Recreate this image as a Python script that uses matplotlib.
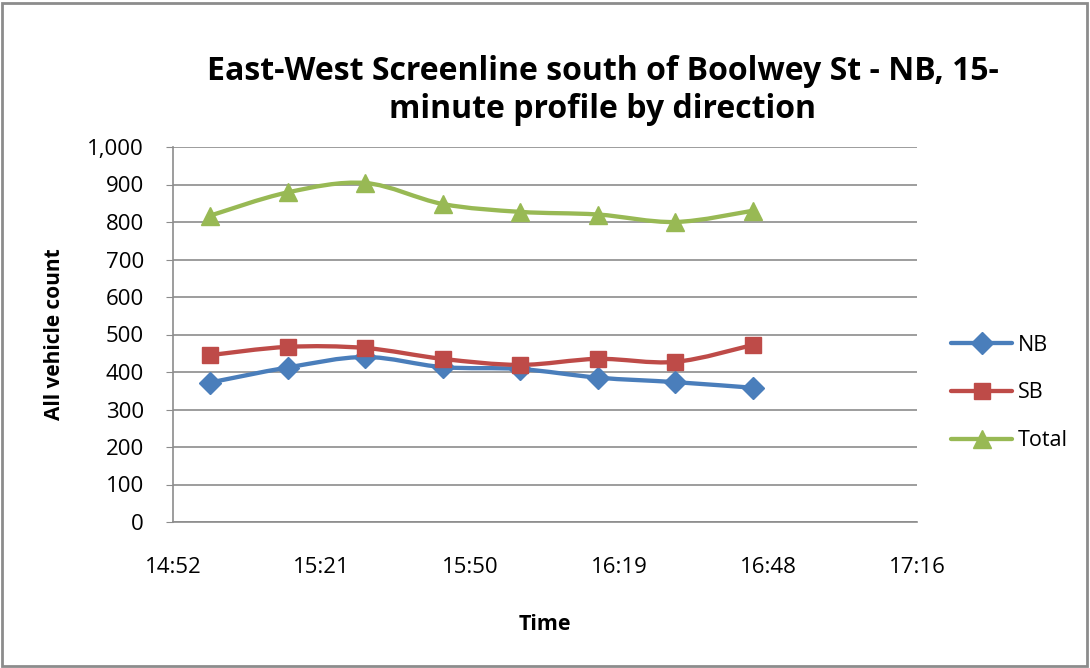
import matplotlib.pyplot as plt
import numpy as np
from matplotlib.path import Path
from matplotlib.patches import PathPatch, Rectangle
from matplotlib.lines import Line2D
from matplotlib.ticker import FuncFormatter, MultipleLocator

plt.rcParams['font.family'] = ['Open Sans', 'DejaVu Sans']

# data
times = ['15:00', '15:15', '15:30', '15:45', '16:00', '16:15', '16:30', '16:45']
nb = [372, 412, 440, 413, 408, 385, 373, 358]
sb = [445, 467, 464, 435, 419, 435, 427, 472]
total = [817, 879, 904, 848, 827, 820, 800, 830]

series = [('NB', nb, '#4a7ebb', 'D', 11),
          ('SB', sb, '#be4b48', 's', 12),
          ('Total', total, '#98b954', '^', 13)]


def to_day(t):
    h, m = t.split(':')
    return (int(h) * 60 + int(m)) / 1440.0


def day_fmt(v, pos):
    mins = int(v * 1440 + 1e-6)
    return '%d:%02d' % (mins // 60, mins % 60)


def smooth_path(x, y, k=1 / 6.0):
    # excel-style smoothed line as cubic bezier segments
    x = np.asarray(x, float)
    y = np.asarray(y, float)
    n = len(x)
    verts = [(x[0], y[0])]
    codes = [Path.MOVETO]
    for i in range(n - 1):
        i0 = max(i - 1, 0)
        i3 = min(i + 2, n - 1)
        c1 = (x[i] + (x[i + 1] - x[i0]) * k, y[i] + (y[i + 1] - y[i0]) * k)
        c2 = (x[i + 1] - (x[i3] - x[i]) * k, y[i + 1] - (y[i3] - y[i]) * k)
        verts += [c1, c2, (x[i + 1], y[i + 1])]
        codes += [Path.CURVE4] * 3
    return Path(verts, codes)


xs = [to_day(t) for t in times]

fig = plt.figure(figsize=(10.9, 6.68), dpi=100)
ax = fig.add_axes([173 / 1090, 146 / 668, 744 / 1090, 375 / 668])

handles = []
for name, vals, col, mk, ms in series:
    ax.add_patch(PathPatch(smooth_path(xs, vals), facecolor='none', edgecolor=col,
                           lw=3.1, capstyle='round', joinstyle='round', zorder=3))
    ax.plot(xs, vals, linestyle='none', marker=mk, ms=ms, color=col, zorder=4)
    handles.append(Line2D([], [], color=col, lw=3.1, marker=mk, ms=ms,
                          solid_capstyle='round'))

ax.set_xlim(0.62, 0.72)
ax.set_ylim(0, 1000)
ax.xaxis.set_major_locator(MultipleLocator(0.02))
ax.xaxis.set_major_formatter(FuncFormatter(day_fmt))
ax.yaxis.set_major_locator(MultipleLocator(100))
ax.yaxis.set_major_formatter(FuncFormatter(lambda v, p: '{:,.0f}'.format(v)))

ax.grid(axis='y', color='#8c8c8c', lw=1.2)
ax.set_axisbelow(True)
for s in ['top', 'right']:
    ax.spines[s].set_visible(False)
for s in ['left', 'bottom']:
    ax.spines[s].set_color('#8c8c8c')
    ax.spines[s].set_linewidth(1.2)

ax.tick_params(axis='y', length=5, color='#8c8c8c', pad=16, labelsize=16)
ax.tick_params(axis='x', length=0, pad=25, labelsize=16)

ax.set_xlabel('Time', fontsize=15.5, fontweight='bold', labelpad=26)
ax.set_ylabel('All vehicle count', fontsize=15, fontweight='bold', labelpad=16)

fig.text(603 / 1090, 1 - 90 / 668,
         'East-West Screenline south of Boolwey St - NB, 15-\nminute profile by direction',
         ha='center', va='center', fontsize=23, fontweight='bold', linespacing=1.2)

fig.legend(handles, [s[0] for s in series], loc='center left',
           bbox_to_anchor=(932 / 1090, 1 - 393 / 668), frameon=False,
           fontsize=15.5, handlelength=2.8, labelspacing=1.25, handletextpad=0.3)

fig.add_artist(Rectangle((1.5 / 1090, 2 / 668), 1085 / 1090, 663 / 668,
                         transform=fig.transFigure, fill=False,
                         edgecolor='#8c8c8c', lw=2))

fig.savefig('out.png', dpi=100)
